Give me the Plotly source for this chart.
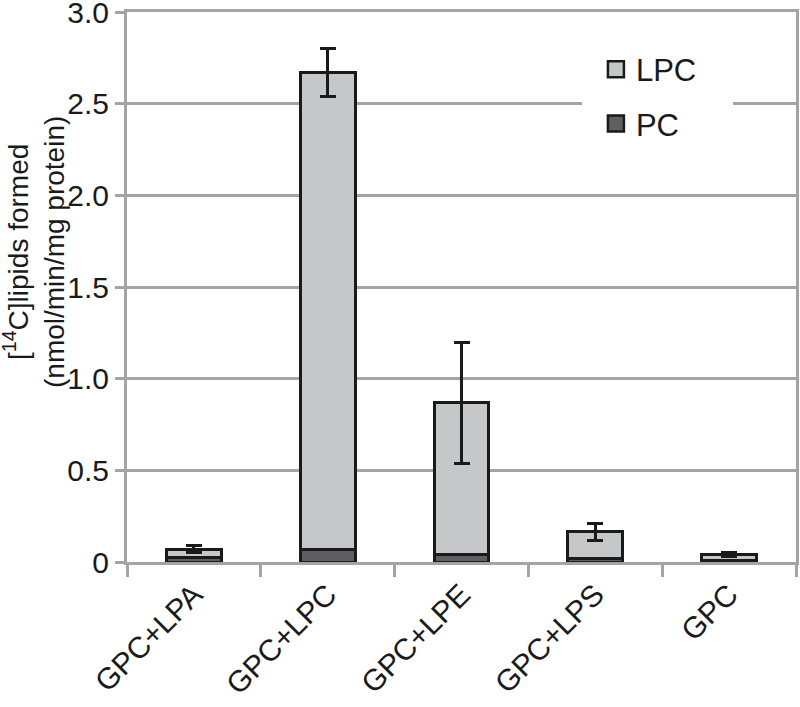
import plotly.graph_objects as go

categories = ["GPC+LPA", "GPC+LPC", "GPC+LPE", "GPC+LPS", "GPC"]
pc_values = [0.025, 0.07, 0.04, 0.02, 0.01]
lpc_values = [0.045, 2.60, 0.83, 0.145, 0.03]
lpc_errors = [0.02, 0.13, 0.33, 0.045, 0.01]
y_tickvals = [0, 0.5, 1.0, 1.5, 2.0, 2.5, 3.0]
y_ticktext = ["0", "0.5", "1.0", "1.5", "2.0", "2.5", "3.0"]

font = "Liberation Sans, Arial, sans-serif"
ink = "#1a1a1a"
grid = "#a4a4a4"
lpc_color = "#c6c7c9"
pc_color = "#5f5f61"
nb = "\u00a0"

fig = go.Figure()
fig.add_trace(go.Bar(
    x=categories, y=pc_values, name="PC", showlegend=False,
    marker=dict(color=pc_color, line=dict(color=ink, width=3)),
    width=0.41,
))
fig.add_trace(go.Bar(
    x=categories, y=lpc_values, name="LPC", showlegend=False,
    marker=dict(color=lpc_color, line=dict(color=ink, width=3)),
    width=0.41,
    error_y=dict(type="data", array=lpc_errors, visible=True,
                 color=ink, thickness=3, width=8),
))
# legend entries
fig.add_trace(go.Scatter(
    x=[None], y=[None], mode="markers", name="LPC" + nb * 2, legendgroup="a",
    marker=dict(symbol="square", size=16, color=lpc_color, line=dict(color=ink, width=2.5)),
))
fig.add_trace(go.Scatter(
    x=[None], y=[None], mode="markers", name="PC", legendgroup="b",
    marker=dict(symbol="square", size=16, color=pc_color, line=dict(color=ink, width=2.5)),
))

fig.update_layout(
    width=800, height=707,
    barmode="stack",
    plot_bgcolor="white", paper_bgcolor="white",
    margin=dict(l=127, r=4, t=12, b=145, autoexpand=False),
    font=dict(family=font, size=30, color=ink),
    showlegend=True,
    legend=dict(
        x=0.68, y=0.97, xanchor="left", yanchor="top",
        bgcolor="white", font=dict(size=31), itemwidth=30,
        borderwidth=14, bordercolor="white", tracegroupgap=11,
    ),
    xaxis=dict(
        type="category",
        showline=True, linecolor=grid, linewidth=3, mirror=True,
        ticks="outside", tickson="boundaries", ticklen=12,
        tickcolor=grid, tickwidth=3,
        tickangle=-45, tickfont=dict(size=30),
        showgrid=False, automargin=False,
    ),
    yaxis=dict(
        range=[0, 3.0],
        tickvals=y_tickvals, ticktext=y_ticktext,
        showline=True, linecolor=grid, linewidth=3, mirror=True,
        ticks="outside", ticklen=9, tickcolor=grid, tickwidth=3,
        showgrid=True, gridcolor=grid, gridwidth=2.5,
        zeroline=False, automargin=False, ticklabeloverflow="allow",
        tickfont=dict(size=30),
    ),
    annotations=[dict(
        text="[<sup>14</sup>C]lipids formed<br>(nmol/min/mg protein)",
        xref="paper", yref="paper", x=0, y=0.5,
        xanchor="center", yanchor="middle",
        xshift=-93, yshift=35, textangle=-90, showarrow=False,
        font=dict(size=28, color=ink),
    )],
)

fig.write_html("out.html", config={"displayModeBar": False},
               post_script="document.body.style.margin='0';")
